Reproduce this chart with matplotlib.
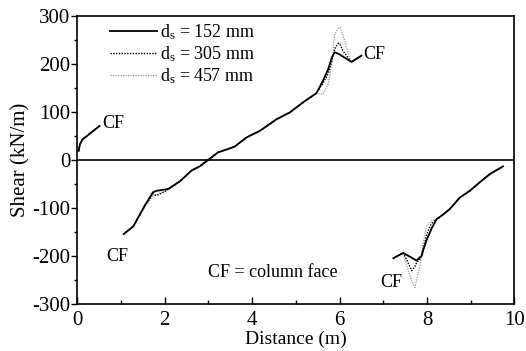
import numpy as np
import matplotlib
matplotlib.use("Agg")
import matplotlib.pyplot as plt
from matplotlib.ticker import MultipleLocator

plt.rcParams['font.family'] = ['Liberation Serif', 'DejaVu Serif']
plt.rcParams['mathtext.fontset'] = 'stix'
plt.rcParams['axes.unicode_minus'] = False

# ---- data ----
x_left = [0.03, 0.06, 0.12, 0.51]
y_left = [19, 33, 43, 71]

x_mid = [1.06, 1.28, 1.54, 1.73, 1.81, 1.95, 2.08, 2.35, 2.61, 2.80, 2.99, 3.22,
         3.45, 3.60, 3.87, 4.18, 4.56, 4.86, 5.21, 5.47, 5.62, 5.74, 5.82, 5.89,
         5.97, 6.01, 6.08, 6.12, 6.20, 6.27, 6.50]
y_mid_152 = [-154, -138, -95, -67, -64, -62, -60, -44, -22, -13, 0, 16,
             23, 28, 47, 61, 85, 99, 123, 139, 165, 189, 213, 224,
             221, 219, 215, 213, 208, 204, 217]
y_mid_305 = [-154, -138, -96, -70, -74, -68, -61, -44, -22, -13, 0, 16,
             23, 28, 47, 61, 85, 99, 123, 139, 160, 180, 205, 232,
             243, 240, 227, 222, 212, 204, 217]
y_mid_457 = [-154, -138, -98, -75, -72, -66, -61, -44, -22, -13, 0, 16,
             23, 28, 47, 61, 85, 99, 123, 139, 137, 158, 200, 262,
             274, 276, 258, 248, 220, 204, 217]

x_right = [7.23, 7.46, 7.49, 7.61, 7.65, 7.72, 7.76, 7.84, 7.88, 7.91, 7.95, 7.99,
           8.07, 8.10, 8.22, 8.33, 8.52, 8.75, 8.98, 9.21, 9.44, 9.74]
y_right_152 = [-204, -193, -195, -201, -203, -207, -209, -202, -199, -188, -178, -166,
               -150, -143, -123, -116, -102, -78, -64, -46, -29, -13]
y_right_305 = [-204, -193, -199, -222, -230, -222, -214, -206, -197, -185, -172, -155,
               -138, -132, -123, -116, -102, -78, -64, -46, -29, -13]
y_right_457 = [-204, -193, -206, -240, -252, -265, -250, -220, -195, -175, -155, -137,
               -129, -126, -123, -116, -102, -78, -64, -46, -29, -13]

series_labels = ['152 mm', '305 mm', '457 mm']
x_ticks = [0, 2, 4, 6, 8, 10]
y_ticks = [-300, -200, -100, 0, 100, 200, 300]

fig = plt.figure(figsize=(5.26, 3.51), dpi=100)
ax = fig.add_axes([0.147, 0.133, 0.831, 0.822])

styles = [dict(color='black', lw=1.3, ls='-'),
          dict(color='black', lw=1.0, ls=(0, (1, 1))),
          dict(color='0.6', lw=0.9, ls=(0, (1, 1)))]
mids = [y_mid_152, y_mid_305, y_mid_457]
rights = [y_right_152, y_right_305, y_right_457]

handles = {}
for i in [2, 1, 0]:
    ax.plot(x_left, y_left, **styles[i])
    ax.plot(x_right, rights[i], **styles[i])
    h, = ax.plot(x_mid, mids[i], **styles[i])
    handles[i] = h
handles = [handles[i] for i in range(3)]

ax.axhline(0, color='black', lw=1.2)

ax.set_xlim(0, 10)
ax.set_ylim(-300, 300)
ax.set_xticks(x_ticks)
ax.set_yticks(y_ticks)
ax.xaxis.set_minor_locator(MultipleLocator(1))
ax.yaxis.set_minor_locator(MultipleLocator(50))
ax.tick_params(axis='x', which='both', direction='in', labelsize=15, pad=5, width=1)
ax.tick_params(axis='x', which='major', length=5)
ax.tick_params(axis='x', which='minor', length=3)
ax.tick_params(axis='y', which='both', direction='out', labelsize=15, pad=1, width=1)
ax.tick_params(axis='y', which='major', length=4)
ax.tick_params(axis='y', which='minor', length=2.5)
for s in ax.spines.values():
    s.set_linewidth(1.2)

ax.set_xlabel('Distance (m)', fontsize=14, labelpad=0)
ax.set_ylabel('Shear (kN/m)', fontsize=15, labelpad=1)

leg = ax.legend(handles, [r'$\mathregular{d_s}$ = ' + s for s in series_labels],
                loc='upper left', bbox_to_anchor=(0.07, 0.985), frameon=False,
                fontsize=13, handlelength=2.6, handletextpad=0.2,
                labelspacing=0.15, borderpad=0.1, borderaxespad=0)

ax.text(0.58, 75, 'CF', fontsize=13, va='center', ha='left')
ax.text(0.67, -200, 'CF', fontsize=13, va='center', ha='left')
ax.text(6.53, 219, 'CF', fontsize=13, va='center', ha='left')
ax.text(6.93, -254, 'CF', fontsize=13, va='center', ha='left')
ax.text(2.99, -233, 'CF = column face', fontsize=13, va='center', ha='left')

fig.savefig('out.png', dpi=100)
